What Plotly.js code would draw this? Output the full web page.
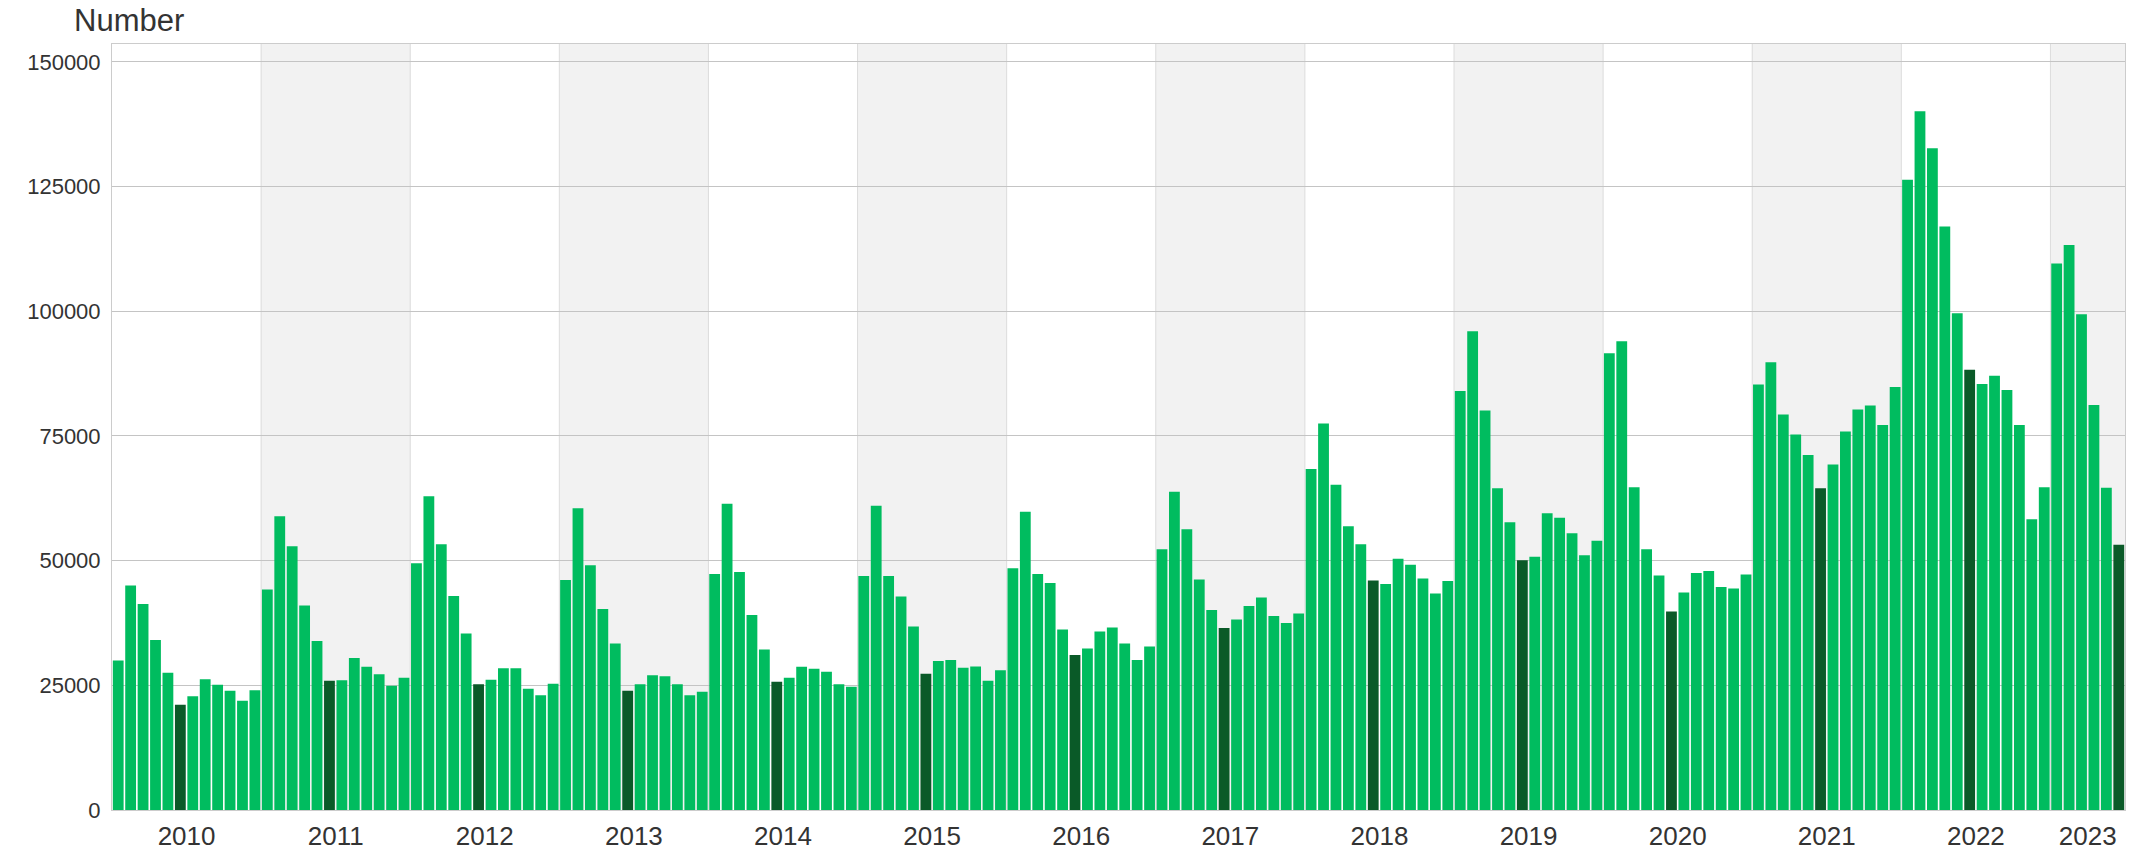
<!DOCTYPE html>
<html>
<head>
<meta charset="utf-8">
<script src="https://cdn.plot.ly/plotly-3.0.1.min.js"></script>
<style>
html,body{margin:0;padding:0;background:#fff;}
#chart{width:2149px;height:855px;}
</style>
</head>
<body>
<div id="chart"></div>
<script>
// Monthly counts, January to December of each year
const y2010 = [30000, 45000, 41300, 34100, 27500, 21100, 22800, 26200, 25100, 23900, 21900, 24000];
const y2011 = [44200, 58900, 52900, 41000, 33900, 25900, 26000, 30500, 28700, 27200, 24900, 26500];
const y2012 = [49500, 62900, 53300, 42900, 35400, 25200, 26100, 28400, 28400, 24300, 23000, 25300];
const y2013 = [46100, 60500, 49100, 40300, 33400, 23900, 25200, 27000, 26800, 25200, 23000, 23700];
const y2014 = [47300, 61400, 47700, 39100, 32200, 25700, 26500, 28700, 28300, 27700, 25200, 24700];
const y2015 = [46900, 61000, 46900, 42800, 36800, 27300, 29900, 30100, 28500, 28800, 25900, 28000];
const y2016 = [48500, 59800, 47300, 45500, 36200, 31100, 32400, 35800, 36600, 33400, 30100, 32800];
const y2017 = [52300, 63800, 56300, 46200, 40100, 36500, 38200, 40900, 42600, 38900, 37500, 39400];
const y2018 = [68400, 77500, 65200, 56900, 53300, 46000, 45300, 50400, 49200, 46400, 43400, 45900];
const y2019 = [84000, 96000, 80100, 64500, 57700, 50100, 50800, 59500, 58600, 55500, 51100, 54000];
const y2020 = [91600, 94000, 64700, 52300, 47000, 39800, 43600, 47500, 47900, 44700, 44400, 47200];
const y2021 = [85300, 89800, 79300, 75300, 71200, 64500, 69300, 75900, 80300, 81100, 77200, 84800];
const y2022 = [126400, 140100, 132700, 117000, 99600, 88300, 85400, 87100, 84200, 77200, 58300, 64700];
const y2023 = [109600, 113300, 99400, 81200, 64600, 53200];

const yearLabels = ['2010','2011','2012','2013','2014','2015','2016','2017','2018','2019','2020','2021','2022','2023'];
const yearSeries = [y2010, y2011, y2012, y2013, y2014, y2015, y2016, y2017, y2018, y2019, y2020, y2021, y2022, y2023];
const highlightMonth = 6; // June bars are drawn dark
const yTicks = [0, 25000, 50000, 75000, 100000, 125000, 150000];

const GREEN = '#00bc5f';
const DARK = '#0a5a28';

const xs = [], ys = [], cols = [], labels = [];
let idx = 0;
const yearStart = [], yearEnd = [];
yearSeries.forEach((arr, yi) => {
  yearStart.push(idx);
  arr.forEach((v, m) => {
    xs.push(idx);
    ys.push(v);
    cols.push((m + 1) === highlightMonth ? DARK : GREEN);
    labels.push(yearLabels[yi] + '-' + String(m + 1).padStart(2, '0'));
    idx++;
  });
  yearEnd.push(idx - 1);
});
const xMin = -0.5, xMax = idx - 0.5;

const tickvals = yearStart.map((s, i) => (Math.max(s - 0.5, xMin) + Math.min(yearEnd[i] + 0.5, xMax)) / 2);

const shapes = [];
yearStart.forEach((s, i) => {
  if (i % 2 === 1) {
    shapes.push({type:'rect', xref:'x', yref:'paper', x0:s - 0.5, x1:Math.min(yearEnd[i] + 0.5, xMax), y0:0, y1:1,
      fillcolor:'#f2f2f2', line:{width:0}, layer:'below'});
  }
  if (i > 0) {
    shapes.push({type:'line', xref:'x', yref:'paper', x0:s - 0.5, x1:s - 0.5, y0:0, y1:1,
      line:{color:'#dcdcdc', width:1}, layer:'below'});
  }
});

const trace = {
  type:'bar', x:xs, y:ys, hovertext:labels, hoverinfo:'text+y', textposition:'none',
  marker:{color:cols, line:{width:0}},
  showlegend:false
};

const FONT = '"Liberation Sans", Arial, Helvetica, sans-serif';
const layout = {
  width:2149, height:855,
  margin:{l:112, r:24, t:44, b:45, pad:0},
  paper_bgcolor:'#ffffff', plot_bgcolor:'#ffffff',
  bargap:0.13,
  font:{family:FONT, color:'#333333'},
  title:{text:'Number', x:74/2149, xanchor:'left', xref:'container', y:1 - 20/855, yanchor:'middle', yref:'container',
    font:{size:31, color:'#333333', family:FONT}},
  xaxis:{range:[xMin, xMax], tickmode:'array', tickvals:tickvals, ticktext:yearLabels,
    showgrid:false, zeroline:false, showline:true, mirror:true, linecolor:'#cccccc', linewidth:1,
    ticks:'', ticklabelstandoff:3, tickfont:{size:26, color:'#333333', family:FONT}, fixedrange:true},
  yaxis:{range:[0, 153600], tickmode:'array', tickvals:yTicks, ticktext:yTicks.map(String),
    showgrid:true, gridcolor:'#c4c4c4', gridwidth:1, zeroline:false,
    showline:true, mirror:true, linecolor:'#cccccc', linewidth:1,
    ticks:'', ticklabelstandoff:6, tickfont:{size:22, color:'#333333', family:FONT}, fixedrange:true},
  shapes:shapes
};

Plotly.newPlot('chart', [trace], layout, {displayModeBar:false, staticPlot:true});
</script>
</body>
</html>
